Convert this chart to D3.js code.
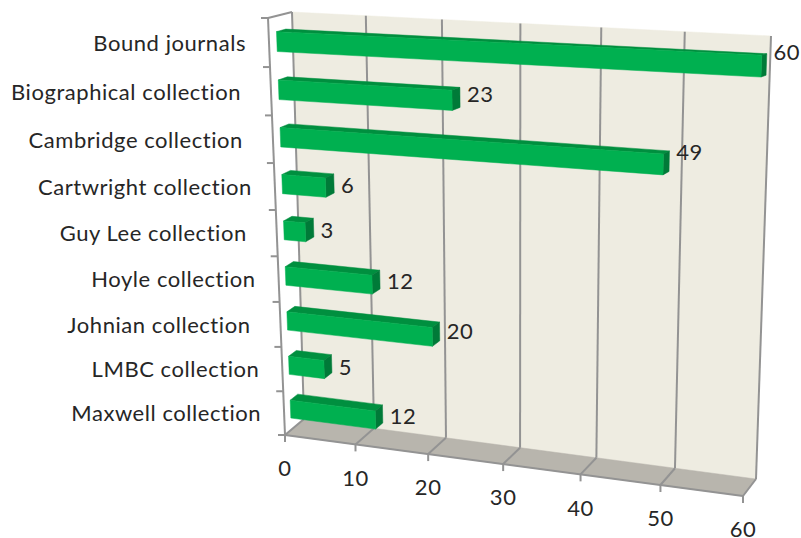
<!DOCTYPE html>
<html><head><meta charset="utf-8">
<script src="https://cdn.jsdelivr.net/npm/d3@7/dist/d3.min.js"></script>
<style>html,body{margin:0;background:#fff}svg{display:block}text{font-family:Lato,"Open Sans",sans-serif;fill:#262626;letter-spacing:0.55px}</style>
</head><body><svg id="c" width="801" height="538"></svg>
<script>
// trailing spaces are the label padding the source chart carries
const categories = ["Bound journals","Biographical collection ","Cambridge collection ","Cartwright collection","Guy Lee collection ","Hoyle collection","Johnian collection ","LMBC collection","Maxwell collection"];
const values = [60,23,49,6,3,12,20,5,12];
const valueTicks = [0,10,20,30,40,50,60];

const frontQuad = [[268,18],[758,39],[743,496],[285,435]];
const backQuad  = [[292,12],[771,36],[756,479],[304,419]];
const FS = 22;

function solve(A,b){const n=b.length;const M=A.map((r,i)=>[...r,b[i]]);
 for(let i=0;i<n;i++){let p=i;for(let k=i+1;k<n;k++)if(Math.abs(M[k][i])>Math.abs(M[p][i]))p=k;[M[i],M[p]]=[M[p],M[i]];
  for(let k=0;k<n;k++){if(k===i)continue;const f=M[k][i]/M[i][i];for(let j=i;j<=n;j++)M[k][j]-=f*M[i][j];}}
 return M.map((r,i)=>r[n]/r[i]);}
function homography(q){const src=[[0,0],[1,0],[1,1],[0,1]];const A=[],b=[];
 src.forEach(([u,v],i)=>{const [x,y]=q[i];A.push([u,v,1,0,0,0,-u*x,-v*x]);b.push(x);A.push([0,0,0,u,v,1,-u*y,-v*y]);b.push(y);});
 const h=solve(A,b);return (u,v)=>{const w=h[6]*u+h[7]*v+1;return [(h[0]*u+h[1]*v+h[2])/w,(h[3]*u+h[4]*v+h[5])/w];};}
const hF=homography(frontQuad), hB=homography(backQuad);
function P(u,v,z){const a=hF(u,v),b=hB(u,v);return [a[0]+(b[0]-a[0])*z,a[1]+(b[1]-a[1])*z];}

const xS=d3.scaleLinear().domain([0,60]).range([0,1]);
const yS=d3.scaleBand().domain(categories).range([0,1]);
const bw=yS.bandwidth();
const barTop=0.32, barBot=0.73, z0=0.33, z1=0.72;

const svg=d3.select("#c");
const poly=(pts,fill,stroke)=>svg.append("path").attr("d",d3.line()(pts)+"Z").attr("fill",fill).attr("stroke",stroke||fill).attr("stroke-width",stroke?1:0.5).attr("stroke-linejoin","round");
const seg=(a,b,w)=>svg.append("line").attr("x1",a[0]).attr("y1",a[1]).attr("x2",b[0]).attr("y2",b[1]).attr("stroke","#939393").attr("stroke-width",w||2);

// walls
poly(backQuad,"#eeece1");
poly([P(0,1,0),P(1,1,0),P(1,1,1),P(0,1,1)],"#b8b5ad");
// gridlines
valueTicks.forEach(t=>{const u=xS(t);seg(P(u,0,1),P(u,1,1));seg(P(u,1,1),P(u,1,0));seg(P(u,1,0),[P(u,1,0)[0],P(u,1,0)[1]+7]);
 svg.append("text").attr("x",P(u,1,0)[0]).attr("y",P(u,1,0)[1]+33.5).attr("dy","0.35em").attr("text-anchor","middle").attr("font-size",FS).text(t);});
// axes
seg(P(0,0,0),P(0,1,0));seg(P(0,1,0),P(1,1,0));seg(P(0,0,0),P(0,0,1));
d3.range(categories.length+1).forEach(i=>{const p=P(0,i/categories.length,0);seg(p,[p[0]-7,p[1]]);});
// category labels
categories.forEach(c=>{const p=P(0,yS(c)+bw/2,0);
 svg.append("text").attr("x",p[0]-(c.endsWith(" ")?30:23)).attr("y",p[1]+0.5).attr("dy","0.35em").attr("text-anchor","end").attr("font-size",FS).text(c.trim());});
// bars
categories.forEach((c,i)=>{const v=values[i],u=xS(v),t=yS(c)+bw*barTop,b=yS(c)+bw*barBot;
 poly([P(0,t,z0),P(u,t,z0),P(u,t,z1),P(0,t,z1)],"#008f3f");
 poly([P(u,t,z0),P(u,b,z0),P(u,b,z1),P(u,t,z1)],"#007a38");
 poly([P(0,t,z0),P(u,t,z0),P(u,b,z0),P(0,b,z0)],"#00b050");
 const e=P(u,yS(c)+bw*(barTop+barBot)/2,z1), f=P(u,yS(c)+bw*(barTop+barBot)/2,z0);
 svg.append("text").attr("x",e[0]+7).attr("y",f[1]-1-0.22*v).attr("dy","0.35em").attr("font-size",FS).text(v);
});
</script></body></html>
